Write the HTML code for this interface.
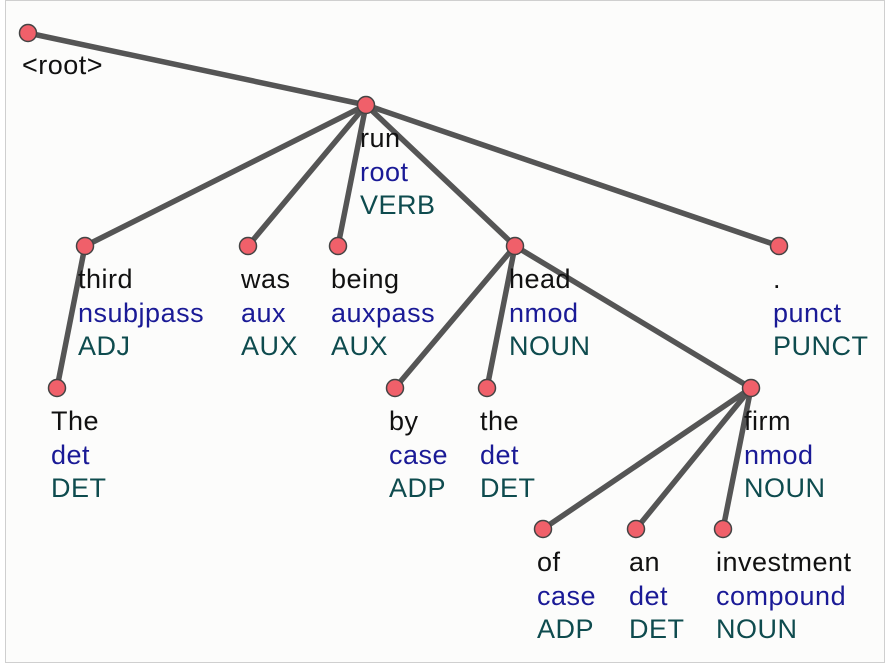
<!DOCTYPE html>
<html><head><meta charset="utf-8"><style>
html,body{margin:0;padding:0;background:#fff;}
svg{display:block;}
text{font-family:"Liberation Sans",Arial,sans-serif;font-size:27px;letter-spacing:0.5px;}
.w{fill:#111;}.r{fill:#1a1a96;}.p{fill:#0e4b4e;}
</style></head><body>
<svg width="891" height="671" viewBox="0 0 891 671" xmlns="http://www.w3.org/2000/svg">
<rect x="5.5" y="0.5" width="879" height="662" fill="#fcfcfb" stroke="#cfcfcf"/>
<g stroke="#555" stroke-width="5.5" stroke-linecap="round">
<line x1="28" y1="33" x2="366" y2="105"/>
<line x1="366" y1="105" x2="85" y2="246"/>
<line x1="366" y1="105" x2="248" y2="246"/>
<line x1="366" y1="105" x2="338" y2="246"/>
<line x1="366" y1="105" x2="515" y2="246"/>
<line x1="366" y1="105" x2="779" y2="246"/>
<line x1="85" y1="246" x2="57" y2="388"/>
<line x1="515" y1="246" x2="395" y2="388"/>
<line x1="515" y1="246" x2="487" y2="388"/>
<line x1="515" y1="246" x2="751" y2="388"/>
<line x1="751" y1="388" x2="543" y2="529"/>
<line x1="751" y1="388" x2="636" y2="529"/>
<line x1="751" y1="388" x2="723" y2="529"/>
</g>
<g fill="#f0606a" stroke="#444" stroke-width="1.5">
<circle cx="28" cy="33" r="8.5"/><circle cx="366" cy="105" r="8.5"/>
<circle cx="85" cy="246" r="8.5"/><circle cx="248" cy="246" r="8.5"/><circle cx="338" cy="246" r="8.5"/><circle cx="515" cy="246" r="8.5"/><circle cx="779" cy="246" r="8.5"/>
<circle cx="57" cy="388" r="8.5"/><circle cx="395" cy="388" r="8.5"/><circle cx="487" cy="388" r="8.5"/><circle cx="751" cy="388" r="8.5"/>
<circle cx="543" cy="529" r="8.5"/><circle cx="636" cy="529" r="8.5"/><circle cx="723" cy="529" r="8.5"/>
</g>
<text class="w" x="22" y="74">&lt;root&gt;</text>
<text class="w" x="360" y="147">run</text><text class="r" x="360" y="181">root</text><text class="p" x="360" y="214">VERB</text>
<text class="w" x="78" y="288">third</text><text class="r" x="78" y="322">nsubjpass</text><text class="p" x="78" y="355">ADJ</text>
<text class="w" x="241" y="288">was</text><text class="r" x="241" y="322">aux</text><text class="p" x="241" y="355">AUX</text>
<text class="w" x="331" y="288">being</text><text class="r" x="331" y="322">auxpass</text><text class="p" x="331" y="355">AUX</text>
<text class="w" x="509" y="288">head</text><text class="r" x="509" y="322">nmod</text><text class="p" x="509" y="355">NOUN</text>
<text class="w" x="773" y="288">.</text><text class="r" x="773" y="322">punct</text><text class="p" x="773" y="355">PUNCT</text>
<text class="w" x="51" y="430">The</text><text class="r" x="51" y="464">det</text><text class="p" x="51" y="497">DET</text>
<text class="w" x="389" y="430">by</text><text class="r" x="389" y="464">case</text><text class="p" x="389" y="497">ADP</text>
<text class="w" x="480" y="430">the</text><text class="r" x="480" y="464">det</text><text class="p" x="480" y="497">DET</text>
<text class="w" x="744" y="430">firm</text><text class="r" x="744" y="464">nmod</text><text class="p" x="744" y="497">NOUN</text>
<text class="w" x="537" y="571">of</text><text class="r" x="537" y="605">case</text><text class="p" x="537" y="638">ADP</text>
<text class="w" x="629" y="571">an</text><text class="r" x="629" y="605">det</text><text class="p" x="629" y="638">DET</text>
<text class="w" x="716" y="571">investment</text><text class="r" x="716" y="605">compound</text><text class="p" x="716" y="638">NOUN</text>
</svg>
</body></html>
